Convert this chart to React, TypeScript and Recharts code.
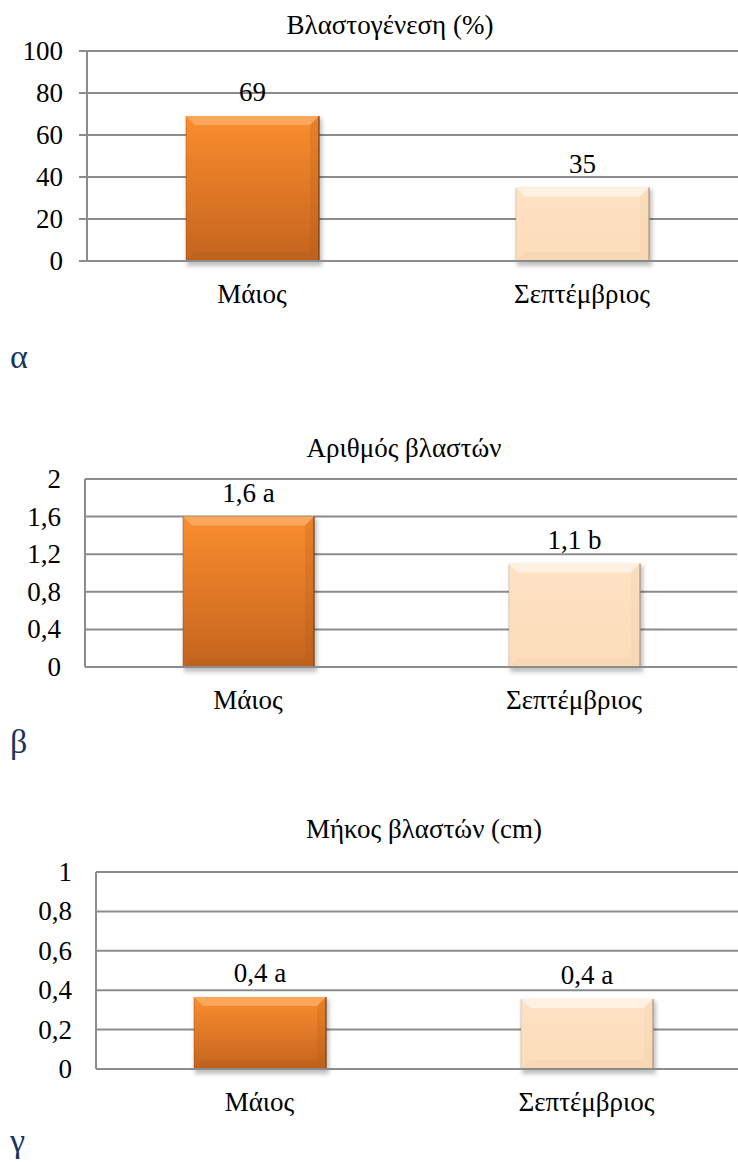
import { Bar, BarChart, CartesianGrid, LabelList, XAxis, YAxis } from "recharts";

const months = ["Μάιος", "Σεπτέμβριος"];

// Βλαστογένεση (%)
const shootingRate = [69, 35];
const rateTicks = [0, 20, 40, 60, 80, 100];

// Αριθμός βλαστών
const shootCount = [1.6, 1.1];
const shootCountGroups = ["a", "b"];
const countTicks = [0, 0.4, 0.8, 1.2, 1.6, 2];

// Μήκος βλαστών (cm)
const shootLength = [0.365, 0.355];
const shootLengthGroups = ["a", "a"];
const lengthTicks = [0, 0.2, 0.4, 0.6, 0.8, 1];

const FONT = "'Liberation Serif', 'Times New Roman', Times, serif";
const GRID = "#8c8c8c";
const TEXT_SIZE = 27;

const comma = (v: number, digits = 1) => v.toFixed(digits).replace(".", ",");
const tickText = (v: number) => String(v).replace(".", ",");

const rateData = months.map((month, i) => ({ month, value: shootingRate[i], label: String(shootingRate[i]) }));
const countData = months.map((month, i) => ({
  month,
  value: shootCount[i],
  label: `${comma(shootCount[i])} ${shootCountGroups[i]}`,
}));
const lengthData = months.map((month, i) => ({
  month,
  value: shootLength[i],
  label: `${comma(shootLength[i])} ${shootLengthGroups[i]}`,
}));

const palettes = [
  { fill: "url(#orangeFill)", light: "#fcae66", shade: "#a9561a", edge: "#7a3c0f" },
  { fill: "url(#peachFill)", light: "#fff5e8", shade: "#e8c6a2", edge: "#b39479" },
];

function BevelBar(props: any) {
  const { x, y, width, height, index } = props;
  if (!height || height <= 0) return null;
  const p = palettes[index % palettes.length];
  const b = Math.min(9, height / 2, width / 2);
  const r = x + width;
  const btm = y + height;
  return (
    <g>
      <rect x={x + 1} y={y + 2} width={width + 2} height={height + 3} fill="rgba(0,0,0,0.25)" filter="url(#barShadow)" />
      <rect x={x} y={y} width={width} height={height} fill={p.fill} />
      <polygon points={`${x},${y} ${r},${y} ${r - b},${y + b} ${x + b},${y + b}`} fill={p.light} opacity={0.8} />
      <polygon points={`${r},${y} ${r},${btm} ${r - b},${btm - b} ${r - b},${y + b}`} fill={p.shade} opacity={0.2} />
      <polygon points={`${x},${btm} ${r},${btm} ${r - b},${btm - b} ${x + b},${btm - b}`} fill={p.shade} opacity={0.25} />
      <line x1={r} y1={y} x2={r} y2={btm} stroke={p.edge} strokeWidth={1.5} strokeOpacity={0.8} />
      <line x1={x} y1={btm} x2={r} y2={btm} stroke={p.edge} strokeWidth={1.5} strokeOpacity={0.8} />
      <line x1={x} y1={y} x2={x} y2={btm} stroke={p.edge} strokeWidth={1} strokeOpacity={0.35} />
    </g>
  );
}

function CategoryTick(props: any) {
  const { x, y, payload } = props;
  return (
    <text x={x} y={y + 42} textAnchor="middle" fontFamily={FONT} fontSize={TEXT_SIZE} fill="#000">
      {payload.value}
    </text>
  );
}

function ValueTick(props: any) {
  const { x, y, payload } = props;
  return (
    <text x={x} y={y + 9} textAnchor="end" fontFamily={FONT} fontSize={TEXT_SIZE} fill="#000">
      {tickText(payload.value)}
    </text>
  );
}

function BarLabel(props: any) {
  const { x, y, width, value } = props;
  return (
    <text x={x + width / 2} y={y - 15} textAnchor="middle" fontFamily={FONT} fontSize={TEXT_SIZE} fill="#000">
      {value}
    </text>
  );
}

type PanelProps = {
  data: { month: string; value: number; label: string }[];
  ticks: number[];
  top: number;
  marginTop: number;
  axisX: number;
  plotHeight: number;
  band: number;
  barSize: number;
  showTicks: boolean;
};

function Panel({ data, ticks, top, marginTop, axisX, plotHeight, band, barSize, showTicks }: PanelProps) {
  const width = axisX + band * data.length;
  const height = marginTop + plotHeight + 60;
  return (
    <div style={{ position: "absolute", left: 0, top }}>
      <BarChart
        width={width}
        height={height}
        data={data}
        margin={{ top: marginTop, right: 0, bottom: 0, left: 0 }}
        barCategoryGap={(band - barSize) / 2}
      >
        <CartesianGrid stroke={GRID} strokeWidth={2} vertical={false} />
        <XAxis
          dataKey="month"
          height={60}
          tick={<CategoryTick />}
          tickLine={false}
          tickSize={0}
          tickMargin={0}
          axisLine={{ stroke: GRID, strokeWidth: 2 }}
          interval={0}
        />
        <YAxis
          width={axisX}
          domain={[ticks[0], ticks[ticks.length - 1]]}
          ticks={ticks}
          interval={0}
          tickSize={8}
          tickMargin={16}
          tickLine={showTicks ? { stroke: GRID, strokeWidth: 2 } : false}
          axisLine={{ stroke: GRID, strokeWidth: 2 }}
          tick={<ValueTick />}
        />
        <Bar dataKey="value" barSize={barSize} shape={<BevelBar />} isAnimationActive={false}>
          <LabelList dataKey="label" content={<BarLabel />} />
        </Bar>
      </BarChart>
    </div>
  );
}

export default function App() {
  return (
    <div
      style={{
        position: "absolute",
        left: 0,
        top: 0,
        width: 738,
        height: 1162,
        overflow: "hidden",
        background: "#fff",
      }}
    >
      <svg width={0} height={0} style={{ position: "absolute" }}>
        <defs>
          <linearGradient id="orangeFill" x1="0" x2="0" y1="0" y2="1">
            <stop offset="0%" stopColor="#fa8d2e" />
            <stop offset="100%" stopColor="#c4641e" />
          </linearGradient>
          <linearGradient id="peachFill" x1="0" x2="0" y1="0" y2="1">
            <stop offset="0%" stopColor="#fee2c4" />
            <stop offset="100%" stopColor="#fcdcba" />
          </linearGradient>
          <filter id="barShadow" x="-20%" y="-20%" width="140%" height="140%">
            <feGaussianBlur stdDeviation="2" />
          </filter>
        </defs>
      </svg>

      <Panel data={rateData} ticks={rateTicks} top={0} marginTop={51} axisX={87} plotHeight={210} band={330} barSize={133} showTicks />
      <Panel data={countData} ticks={countTicks} top={420} marginTop={59} axisX={85} plotHeight={188} band={326} barSize={131} showTicks={false} />
      <Panel data={lengthData} ticks={lengthTicks} top={800} marginTop={72} axisX={96} plotHeight={197} band={327} barSize={132} showTicks={false} />

      <svg width={738} height={1162} style={{ position: "absolute", left: 0, top: 0, pointerEvents: "none" }}>
        <text x={390} y={34} textAnchor="middle" fontFamily={FONT} fontSize={TEXT_SIZE} fill="#000">Βλαστογένεση (%)</text>
        <text x={404} y={457} textAnchor="middle" fontFamily={FONT} fontSize={TEXT_SIZE} fill="#000">Αριθμός βλαστών</text>
        <text x={424} y={838} textAnchor="middle" fontFamily={FONT} fontSize={TEXT_SIZE} fill="#000">Μήκος βλαστών (cm)</text>
        <text x={10} y={368} fontFamily={FONT} fontSize={34} fill="#17365d">α</text>
        <text x={10} y={753} fontFamily={FONT} fontSize={34} fill="#17365d">β</text>
        <text x={10} y={1152} fontFamily={FONT} fontSize={34} fill="#17365d">γ</text>
      </svg>
    </div>
  );
}
